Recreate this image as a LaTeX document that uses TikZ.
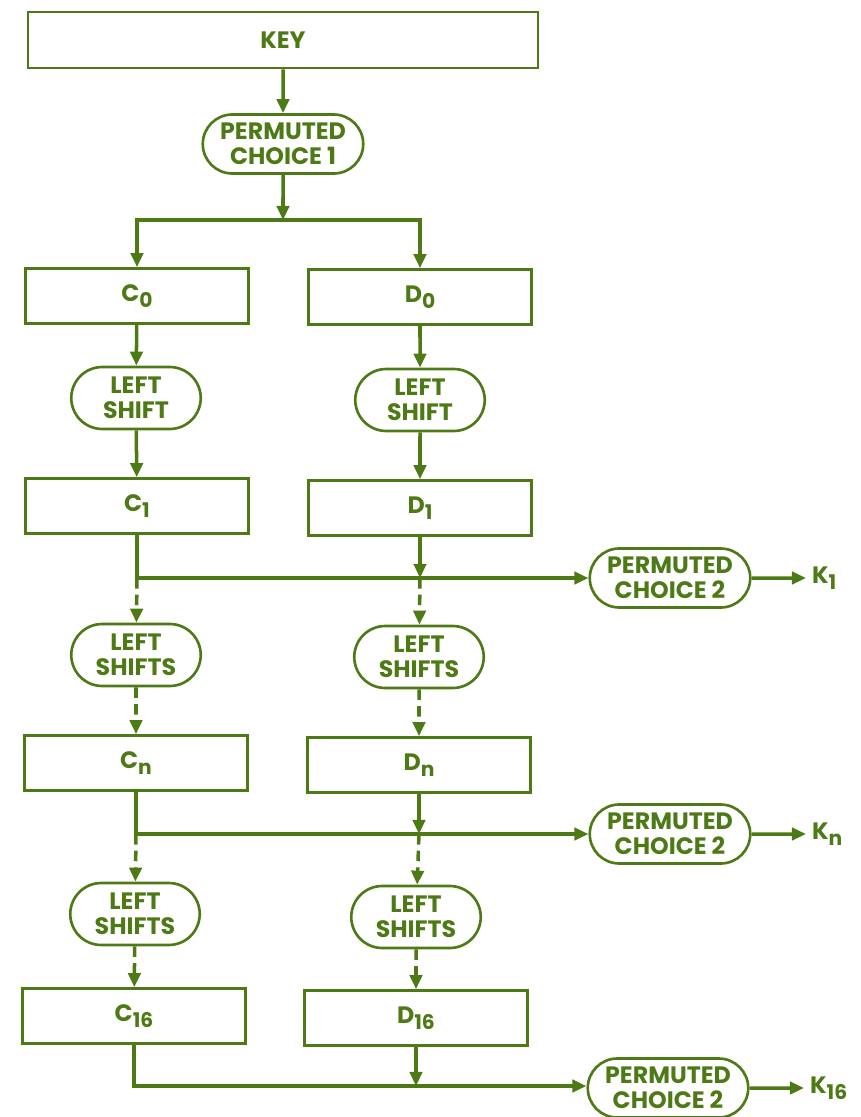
\documentclass[tikz,border=0pt]{standalone}
\usepackage{fontspec}
\setmainfont{Poppins}
\usetikzlibrary{arrows.meta,shapes.misc}
\definecolor{desgreen}{RGB}{78,122,22}
\newcommand{\sbs}[1]{\raisebox{-0.45ex}{\fontsize{11.5}{11.5}\selectfont #1}}
\tikzset{
 box/.style={draw=desgreen, line width=1.5pt, minimum width=4.46cm, minimum height=1.1cm},
 oval/.style={draw=desgreen, line width=1.5pt, rounded rectangle, minimum height=1.24cm, minimum width=2.66cm, align=center, inner sep=1pt},
 pcbox/.style={oval, minimum width=3.28cm, minimum height=1.18cm},
 wire/.style={desgreen, line width=2pt},
 flow/.style={wire, -{Triangle[length=8pt,width=7pt]}},
 dflow/.style={flow, dash pattern=on 6pt off 3.5pt},
}
\begin{document}
\begin{tikzpicture}[x=0.02cm, y=-0.02cm, text=desgreen,
  font=\bfseries\fontsize{13.5}{14.5}\selectfont]
 \useasboundingbox (0,0) rectangle (861,1117);

 % key and first permutation
 \node [box, minimum width=10.2cm, minimum height=1.12cm] (key) at (283,40) {KEY};
 \node [pcbox] (pcone) at (283,144) {PERMUTED\\CHOICE 1};
 \coordinate (br) at (283,220);
 \draw [flow] (key) -- (pcone);
 \draw [flow] (pcone) -- (br);

 % halves
 \node [box] (czero) at (137,296) {C\sbs{0}};
 \node [box] (dzero) at (420,297) {D\sbs{0}};
 \draw [flow] (br) -| (czero);
 \draw [flow] (br) -| (dzero);

 % round 1
 \node [oval] (lsca) at (136,398) {LEFT\\SHIFT};
 \node [oval] (lsda) at (420,400) {LEFT\\SHIFT};
 \node [box] (cone) at (137,506) {C\sbs{1}};
 \node [box] (done) at (420,508) {D\sbs{1}};
 \node [pcbox] (pctwoa) at (670,578) {PERMUTED\\CHOICE 2};
 \node [anchor=west] (kone) at (806,578) {K\sbs{1}};
 \coordinate (jca) at (137,578);
 \coordinate (jda) at (420,578);
 \draw [flow] (czero) -- (lsca);
 \draw [flow] (dzero) -- (lsda);
 \draw [flow] (lsca) -- (cone);
 \draw [flow] (lsda) -- (done);
 \draw [flow] (cone) -- (jca) -- (pctwoa);
 \draw [flow] (done) -- (jda);
 \draw [flow] (pctwoa) -- (kone);

 % round n
 \node [oval] (lscb) at (136,655) {LEFT\\SHIFTS};
 \node [oval] (lsdb) at (419,657) {LEFT\\SHIFTS};
 \node [box] (cn) at (136,763) {C\sbs{n}};
 \node [box] (dn) at (419,765) {D\sbs{n}};
 \node [pcbox] (pctwob) at (670,834) {PERMUTED\\CHOICE 2};
 \node [anchor=west] (kn) at (806,834) {K\sbs{n}};
 \coordinate (jcb) at (136,834);
 \coordinate (jdb) at (419,834);
 \draw [dflow] (jca) -- (lscb);
 \draw [dflow] (jda) -- (lsdb);
 \draw [dflow] (lscb) -- (cn);
 \draw [dflow] (lsdb) -- (dn);
 \draw [flow] (cn) -- (jcb) -- (pctwob);
 \draw [flow] (dn) -- (jdb);
 \draw [flow] (pctwob) -- (kn);

 % round 16
 \node [oval] (lscc) at (135,914) {LEFT\\SHIFTS};
 \node [oval] (lsdc) at (416,917) {LEFT\\SHIFTS};
 \node [box] (csix) at (134,1016) {C\sbs{16}};
 \node [box] (dsix) at (416,1018) {D\sbs{16}};
 \node [pcbox] (pctwoc) at (668,1088) {PERMUTED\\CHOICE 2};
 \node [anchor=west] (ksix) at (804,1088) {K\sbs{16}};
 \coordinate (jcc) at (134,1086);
 \coordinate (jdc) at (416,1086);
 \draw [dflow] (jcb) -- (lscc);
 \draw [dflow] (jdb) -- (lsdc);
 \draw [dflow] (lscc) -- (csix);
 \draw [dflow] (lsdc) -- (dsix);
 \draw [flow] (csix) -- (jcc) -- (pctwoc.west |- jcc);
 \draw [flow] (dsix) -- (jdc);
 \draw [flow] (pctwoc) -- (ksix);
\end{tikzpicture}
\end{document}
